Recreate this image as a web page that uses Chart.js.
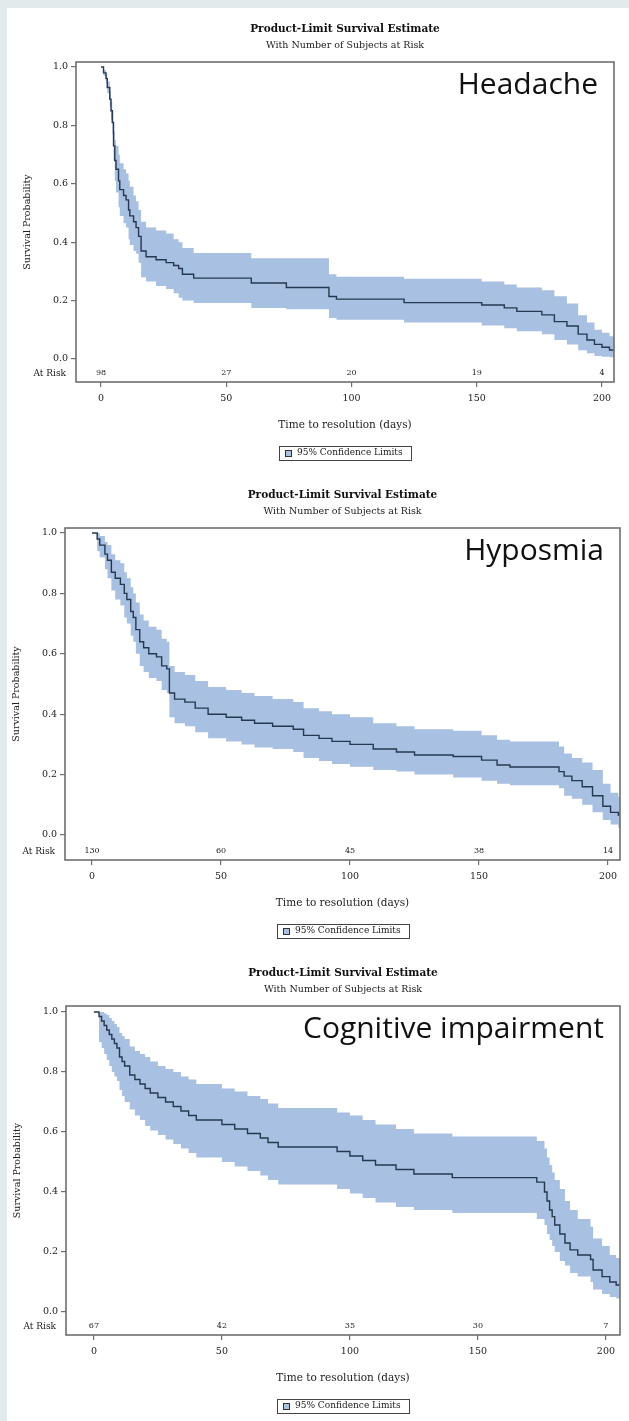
<!DOCTYPE html>
<html><head><meta charset="utf-8">
<script src="https://cdn.jsdelivr.net/npm/chart.js@4.4.0/dist/chart.umd.min.js"></script>
<style>
html,body{margin:0;padding:0;}
body{width:629px;height:1421px;background:#e2eaec;position:relative;overflow:hidden;}
#sheet{position:absolute;left:7px;top:8px;width:622px;height:1413px;background:#fff;}
canvas{position:absolute;left:0;}
</style></head><body>
<div id="sheet"></div>
<canvas id="c1" width="629" height="475" style="top:0px"></canvas>
<canvas id="c2" width="629" height="480" style="top:475px"></canvas>
<canvas id="c3" width="629" height="466" style="top:955px"></canvas>
<script>
// ---- shared labels ----
const xTicks = [0, 50, 100, 150, 200];
const yTicks = [0, 0.2, 0.4, 0.6, 0.8, 1.0];
const chartTitle = 'Product-Limit Survival Estimate';
const chartSubtitle = 'With Number of Subjects at Risk';
const xTitle = 'Time to resolution (days)';
const yTitle = 'Survival Probability';
const legendText = '95% Confidence Limits';

// ---- Headache ----
const headacheTime  = [0,1,2,2.5,3.5,4,4.5,5,5.5,6,7,7.5,9,10,11,11.5,13,14,15,16,18,22,26,29,31,32.5,37,60,74,91,94,121,152,161,166,176,181,186,190.5,194,197,200,203,205];
const headacheSurv  = [1,0.98,0.96,0.93,0.89,0.85,0.81,0.73,0.68,0.65,0.61,0.58,0.56,0.545,0.51,0.49,0.47,0.45,0.42,0.37,0.35,0.34,0.33,0.32,0.31,0.29,0.277,0.26,0.245,0.214,0.205,0.193,0.185,0.175,0.163,0.151,0.128,0.113,0.085,0.065,0.05,0.04,0.031,0.031];
const headacheUpper = [1,0.99,0.975,0.95,0.915,0.88,0.85,0.78,0.75,0.73,0.70,0.67,0.65,0.635,0.61,0.59,0.56,0.54,0.51,0.47,0.45,0.44,0.43,0.41,0.40,0.38,0.363,0.345,0.345,0.29,0.282,0.275,0.265,0.255,0.245,0.235,0.215,0.19,0.15,0.125,0.1,0.09,0.078,0.078];
const headacheLower = [1,0.97,0.945,0.91,0.865,0.82,0.77,0.68,0.61,0.57,0.52,0.49,0.465,0.45,0.41,0.39,0.37,0.36,0.33,0.28,0.265,0.25,0.24,0.225,0.21,0.2,0.192,0.175,0.17,0.14,0.134,0.125,0.115,0.105,0.095,0.085,0.065,0.05,0.03,0.02,0.01,0.008,0.006,0.006];
const headacheAtRisk = [98, 27, 20, 19, 4];

// ---- Hyposmia ----
const hyposmiaTime  = [0,2,3,5,6,7.5,9,11,12.5,13.5,15,16,17,18.5,20,22,25,27,29,30,32,36,40,45,52,58,63,70,78,82,88,93,100,109,118,125,140,151,157,162,181,183,186,190,194,198,201,204,205];
const hyposmiaSurv  = [1,0.98,0.96,0.93,0.91,0.87,0.85,0.83,0.80,0.78,0.74,0.72,0.68,0.64,0.62,0.60,0.59,0.56,0.55,0.47,0.45,0.44,0.42,0.40,0.39,0.38,0.37,0.36,0.35,0.33,0.32,0.31,0.30,0.285,0.275,0.265,0.26,0.248,0.232,0.225,0.21,0.195,0.18,0.16,0.13,0.095,0.075,0.066,0.066];
const hyposmiaUpper = [1,1,0.99,0.97,0.96,0.93,0.91,0.9,0.87,0.85,0.82,0.80,0.77,0.73,0.71,0.69,0.68,0.65,0.64,0.56,0.54,0.53,0.51,0.49,0.48,0.47,0.46,0.45,0.44,0.42,0.41,0.40,0.39,0.37,0.36,0.35,0.345,0.33,0.315,0.31,0.293,0.27,0.255,0.24,0.215,0.17,0.14,0.127,0.127];
const hyposmiaLower = [1,0.94,0.92,0.88,0.85,0.81,0.78,0.76,0.72,0.70,0.66,0.64,0.60,0.56,0.54,0.52,0.51,0.48,0.47,0.39,0.37,0.36,0.34,0.32,0.31,0.30,0.29,0.285,0.275,0.255,0.245,0.235,0.226,0.215,0.21,0.2,0.19,0.18,0.17,0.165,0.155,0.13,0.12,0.1,0.075,0.05,0.035,0.023,0.023];
const hyposmiaAtRisk = [130, 60, 45, 38, 14];

// ---- Cognitive impairment ----
const cognitiveTime  = [0,2,3,4,5,6,7,8,9,10,11,12,14,16,18,20,22,25,28,31,34,37,40,50,55,60,65,68,72,95,100,105,110,118,125,140,173,176,177,178,179,180,182,184,186,189,194,195,198.5,201.5,204,206];
const cognitiveSurv  = [1,0.985,0.97,0.955,0.94,0.925,0.91,0.895,0.88,0.85,0.835,0.82,0.79,0.775,0.76,0.745,0.73,0.715,0.70,0.685,0.67,0.655,0.64,0.625,0.61,0.595,0.58,0.565,0.55,0.535,0.52,0.505,0.49,0.475,0.46,0.448,0.433,0.4,0.37,0.34,0.318,0.29,0.26,0.23,0.207,0.19,0.175,0.14,0.118,0.1,0.09,0.09];
const cognitiveUpper = [1,1,1,0.995,0.99,0.98,0.97,0.96,0.95,0.93,0.92,0.91,0.885,0.87,0.86,0.85,0.835,0.82,0.81,0.80,0.785,0.775,0.76,0.745,0.735,0.72,0.71,0.695,0.68,0.665,0.655,0.64,0.625,0.61,0.595,0.585,0.57,0.545,0.515,0.49,0.465,0.44,0.41,0.37,0.34,0.31,0.285,0.245,0.22,0.19,0.18,0.18];
const cognitiveLower = [1,0.9,0.88,0.86,0.84,0.82,0.80,0.785,0.77,0.74,0.72,0.7,0.675,0.655,0.64,0.62,0.605,0.59,0.575,0.56,0.545,0.53,0.515,0.5,0.485,0.47,0.455,0.44,0.425,0.41,0.395,0.38,0.365,0.35,0.34,0.33,0.31,0.29,0.26,0.24,0.22,0.2,0.17,0.155,0.13,0.118,0.1,0.075,0.06,0.05,0.045,0.045];
const cognitiveAtRisk = [67, 42, 35, 30, 7];

// ---- styles ----
const bandColor = '#a8c0e1';
const lineColor = '#26384f';
const frameColor = '#6f6f6f';
const serif = '"DejaVu Serif", "Liberation Serif", serif';

const decor = {
  id: 'decor',
  afterDraw(chart, args, o) {
    const ctx = chart.ctx, a = chart.chartArea, xs = chart.scales.x;
    ctx.save();
    ctx.strokeStyle = frameColor; ctx.lineWidth = 1.6;
    ctx.strokeRect(a.left, a.top, a.right - a.left, a.bottom - a.top);
    const cx = (a.left + a.right) / 2;
    ctx.textAlign = 'center'; ctx.textBaseline = 'middle';
    ctx.fillStyle = '#111';
    ctx.font = 'bold 10.5px ' + serif; ctx.fillText(chartTitle, cx, a.top - 33);
    ctx.font = '9.5px ' + serif; ctx.fillStyle = '#222'; ctx.fillText(chartSubtitle, cx, a.top - 16);
    // big panel label
    ctx.font = '30px "Open Sans", sans-serif'; ctx.textAlign = 'right'; ctx.fillStyle = '#111';
    ctx.fillText(o.label, a.right - 16, a.top + 23);
    // at risk row
    ctx.font = '9px ' + serif; ctx.fillStyle = '#222';
    ctx.textAlign = 'right'; ctx.fillText('At Risk', a.left - 10, a.bottom - 8);
    ctx.textAlign = 'center';
    ctx.font = '8px ' + serif;
    xTicks.forEach((t, i) => ctx.fillText(String(o.atRisk[i]), xs.getPixelForValue(t), a.bottom - 9));
    // x axis title
    ctx.font = '10.5px ' + serif; ctx.fillStyle = '#222';
    ctx.fillText(xTitle, cx, a.bottom + 43);
    // y axis title
    ctx.save();
    ctx.translate(a.left - 48, (a.top + a.bottom) / 2);
    ctx.rotate(-Math.PI / 2);
    ctx.font = '9.5px ' + serif; ctx.fillText(yTitle, 0, 0);
    ctx.restore();
    // legend
    ctx.font = '9px ' + serif;
    const tw = ctx.measureText(legendText).width;
    const bw = tw + 26, bh = 14, by = a.bottom + 71;
    const bx = Math.round(cx - bw / 2);
    ctx.strokeStyle = '#444'; ctx.lineWidth = 1;
    ctx.strokeRect(bx + 0.5, Math.round(by - bh / 2) + 0.5, Math.round(bw), bh);
    ctx.fillStyle = bandColor;
    ctx.fillRect(bx + 6, Math.round(by) - 3, 7, 7);
    ctx.strokeStyle = '#333';
    ctx.strokeRect(bx + 6.5, Math.round(by) - 2.5, 6, 6);
    ctx.fillStyle = '#222'; ctx.textAlign = 'left';
    ctx.fillText(legendText, bx + 18, by);
    ctx.restore();
  }
};

function makeChart(id, label, time, surv, lower, upper, atRisk, L) {
  const pts = arr => time.map((t, i) => ({ x: t, y: arr[i] }));
  return new Chart(document.getElementById(id), {
    type: 'line',
    data: {
      datasets: [
        { label: 'Survival', data: pts(surv), stepped: true, borderColor: lineColor, borderWidth: 1.4, pointRadius: 0, fill: false },
        { label: 'Upper', data: pts(upper), stepped: true, borderWidth: 0, borderColor: 'rgba(0,0,0,0)', pointRadius: 0, backgroundColor: bandColor, fill: '+1' },
        { label: 'Lower', data: pts(lower), stepped: true, borderWidth: 0, borderColor: 'rgba(0,0,0,0)', pointRadius: 0, fill: false }
      ]
    },
    options: {
      responsive: false, animation: false, devicePixelRatio: 1,
      layout: { padding: { left: 0, right: L.right, top: L.top, bottom: L.bottom } },
      plugins: { legend: { display: false }, tooltip: { enabled: false }, title: { display: false },
                 decor: { label: label, atRisk: atRisk } },
      scales: {
        x: {
          type: 'linear', min: L.xMin, max: L.xMax,
          afterBuildTicks: s => { s.ticks = xTicks.map(v => ({ value: v })); },
          afterFit: s => { s.height = 30; },
          grid: { drawOnChartArea: false, drawTicks: true, tickLength: 5, color: frameColor, lineWidth: 1.2 },
          border: { display: false },
          ticks: { font: { family: serif, size: 9.5 }, color: '#222', padding: 6, maxRotation: 0, callback: v => String(v) }
        },
        y: {
          type: 'linear', min: L.yMin, max: L.yMax,
          afterBuildTicks: s => { s.ticks = yTicks.map(v => ({ value: v })); },
          afterFit: s => { s.width = L.left; },
          grid: { drawOnChartArea: false, drawTicks: true, tickLength: 5, color: frameColor, lineWidth: 1.2 },
          border: { display: false },
          ticks: { font: { family: serif, size: 9.5 }, color: '#222', padding: 3, callback: v => Number(v).toFixed(1) }
        }
      }
    },
    plugins: [decor]
  });
}

makeChart('c1', 'Headache', headacheTime, headacheSurv, headacheLower, headacheUpper, headacheAtRisk,
  { left: 76, right: 15, top: 62, bottom: 475 - 382 - 30, xMin: -9.98, xMax: 204.8, yMin: -0.0788, yMax: 1.0171 });
makeChart('c2', 'Hyposmia', hyposmiaTime, hyposmiaSurv, hyposmiaLower, hyposmiaUpper, hyposmiaAtRisk,
  { left: 65, right: 9, top: 53, bottom: 480 - 385 - 30, xMin: -10.47, xMax: 204.65, yMin: -0.0828, yMax: 1.0166 });
makeChart('c3', 'Cognitive impairment', cognitiveTime, cognitiveSurv, cognitiveLower, cognitiveUpper, cognitiveAtRisk,
  { left: 66, right: 9, top: 51, bottom: 466 - 380 - 30, xMin: -10.9, xMax: 205.5, yMin: -0.0767, yMax: 1.02 });
</script>
</body></html>
